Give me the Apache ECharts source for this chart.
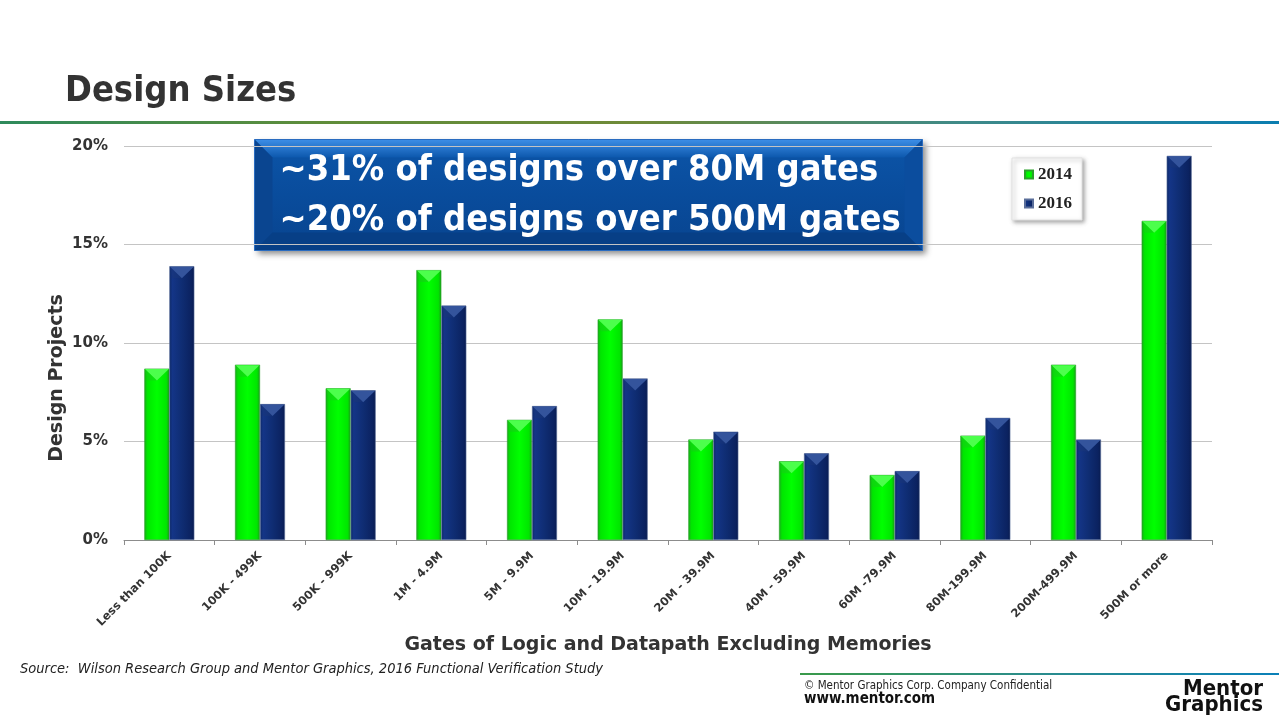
<!DOCTYPE html>
<html><head><meta charset="utf-8">
<script src="https://cdn.jsdelivr.net/npm/echarts@6/dist/echarts.min.js"></script>
<style>html,body{margin:0;padding:0;background:#fff}#c{width:1279px;height:720px}</style>
</head><body><div id="c"></div>
<script>
const categories = ['Less than 100K','100K - 499K','500K - 999K','1M - 4.9M','5M - 9.9M','10M - 19.9M','20M - 39.9M','40M - 59.9M','60M -79.9M','80M-199.9M','200M-499.9M','500M or more'];
const series2014 = [8.7, 8.9, 7.7, 13.7, 6.1, 11.2, 5.1, 4.0, 3.3, 5.3, 8.9, 16.2];
const series2016 = [13.9, 6.9, 7.6, 11.9, 6.8, 8.2, 5.5, 4.4, 3.5, 6.2, 5.1, 19.5];
const yTicks = [0, 5, 10, 15, 20];
const seriesNames = ['2014', '2016'];

const COND = '"DejaVu Sans Condensed","DejaVu Sans",sans-serif';
const SANS = '"DejaVu Sans",sans-serif';
const chart = echarts.init(document.getElementById('c'), null, {renderer: 'canvas'});

const greenFill = new echarts.graphic.LinearGradient(0,0,1,0,[
  {offset:0,color:'#1ea41e'},{offset:0.12,color:'#00e600'},{offset:0.5,color:'#00ff00'},{offset:0.88,color:'#00e600'},{offset:1,color:'#1a9a1a'}]);
const blueFill = new echarts.graphic.LinearGradient(0,0,1,0,[
  {offset:0,color:'#0d2866'},{offset:0.12,color:'#143587'},{offset:0.5,color:'#0f2d73'},{offset:0.88,color:'#0b2260'},{offset:1,color:'#091c50'}]);
const calloutFill = new echarts.graphic.LinearGradient(0,0,0,1,[
  {offset:0,color:'#0c55a8'},{offset:0.5,color:'#094c9c'},{offset:1,color:'#08448f'}]);

const BAR_W = 25;
const bevelData = [];
series2014.forEach((v, i) => bevelData.push([i, v, 0]));
series2016.forEach((v, i) => bevelData.push([i, v, 1]));

function renderBevel(params, api) {
  const idx = api.value(0), val = api.value(1), s = api.value(2);
  const p = api.coord([idx, val]);
  const x0 = s === 0 ? p[0] - BAR_W : p[0];
  const x1 = x0 + BAR_W;
  const h = 12;
  const top = s === 0 ? '#4cff4c' : '#34549c';
  const side = s === 0 ? '#19c719' : '#1a3578';
  return {type: 'group', children: [
    {type: 'polygon', shape: {points: [[x0 + 0.5, p[1] + 0.5], [x1 - 0.5, p[1] + 0.5], [(x0 + x1) / 2, p[1] + h]]}, style: {fill: top}},
    {type: 'polygon', shape: {points: [[x0 + 0.5, p[1] + 0.5], [(x0 + x1) / 2, p[1] + h], [x0 + 3, p[1] + h]]}, style: {fill: side, opacity: 0.5}}
  ]};
}

chart.setOption({
  animation: false,
  backgroundColor: '#ffffff',
  grid: {left: 124, right: 67, top: 146, bottom: 180, containLabel: false},
  legend: {
    data: seriesNames,
    orient: 'vertical',
    left: 1012, top: 158,
    icon: 'rect', itemWidth: 8, itemHeight: 8, itemGap: 12,
    padding: [8, 10, 8, 12],
    backgroundColor: '#ffffff',
    borderColor: '#e2e2e2', borderWidth: 1,
    shadowBlur: 4, shadowColor: 'rgba(0,0,0,0.35)', shadowOffsetX: 2, shadowOffsetY: 2,
    textStyle: {fontFamily: '"Liberation Serif","Times New Roman",serif', fontWeight: 'bold', fontSize: 17, color: '#222'}
  },
  xAxis: {
    type: 'category',
    data: categories,
    name: 'Gates of Logic and Datapath Excluding Memories',
    nameLocation: 'middle', nameGap: 91,
    nameTextStyle: {fontFamily: SANS, fontWeight: 'bold', fontSize: 19, color: '#333'},
    axisLine: {lineStyle: {color: '#8c8c8c', width: 1}},
    axisTick: {show: true, length: 5, lineStyle: {color: '#8c8c8c'}},
    axisLabel: {rotate: 45, interval: 0, margin: 14, fontFamily: SANS, fontWeight: 'bold', fontSize: 11.5, color: '#333'}
  },
  yAxis: {
    type: 'value', min: 0, max: 20, interval: 5,
    axisLine: {show: false}, axisTick: {show: false},
    axisLabel: {margin: 16, fontFamily: SANS, fontWeight: 'bold', fontSize: 15, color: '#333',
      formatter: v => yTicks.includes(v) ? v + '%' : ''},
    splitLine: {lineStyle: {color: '#c4c4c4', width: 1}}
  },
  series: [
    {name: seriesNames[0], type: 'bar', data: series2014, barWidth: BAR_W, barGap: '0%',
     itemStyle: {color: greenFill, borderColor: '#2aa02a', borderWidth: 0.6}},
    {name: seriesNames[1], type: 'bar', data: series2016, barWidth: BAR_W, barGap: '0%',
     itemStyle: {color: blueFill, borderColor: '#5a6e9a', borderWidth: 0.6}},
    {name: 'bevel', type: 'custom', data: bevelData, renderItem: renderBevel, silent: true, z: 3,
     encode: {x: 0, y: 1}}
  ],
  graphic: [
    {type: 'text', left: 65, top: 74, style: {text: 'Design Sizes', font: 'bold 36px ' + COND, fill: '#333333'}},
    {type: 'rect', left: 0, top: 121, shape: {width: 1279, height: 3},
     style: {fill: new echarts.graphic.LinearGradient(0,0,1,0,[
       {offset:0,color:'#2e8a5c'},{offset:0.25,color:'#5f8d3a'},{offset:0.5,color:'#6f8a38'},{offset:0.75,color:'#3f8a88'},{offset:1,color:'#0a7db0'}])}},
    {type: 'text', x: 57, y: 378, rotation: Math.PI / 2,
     style: {text: 'Design Projects', font: 'bold 19px ' + SANS, fill: '#333', align: 'center', verticalAlign: 'middle'}},
    // callout box
    {type: 'group', left: 252, top: 137, children: [
      {type: 'rect', shape: {x: 0, y: 0, width: 668, height: 111},
       style: {fill: calloutFill, shadowBlur: 6, shadowColor: 'rgba(0,0,0,0.45)', shadowOffsetX: 3, shadowOffsetY: 3}},
      {type: 'polygon', shape: {points: [[0,0],[668,0],[650,18],[18,18]]},
       style: {fill: new echarts.graphic.LinearGradient(0,0,0,1,[{offset:0,color:'#3d8ee6'},{offset:1,color:'#0d58ad'}])}},
      {type: 'polygon', shape: {points: [[0,0],[18,18],[18,93],[0,111]]}, style: {fill: '#0a4590'}},
      {type: 'polygon', shape: {points: [[668,0],[650,18],[650,93],[668,111]]}, style: {fill: '#0b4d9e'}},
      {type: 'polygon', shape: {points: [[0,111],[18,93],[650,93],[668,111]]}, style: {fill: '#073f86'}},
      {type: 'rect', shape: {x: 0, y: 0, width: 668, height: 111}, style: {fill: 'none', stroke: '#2a6cc0', lineWidth: 1}},
      {type: 'text', x: 25, y: 13, style: {text: '~31% of designs over 80M gates', font: 'bold 36px ' + COND, fill: '#ffffff'}},
      {type: 'text', x: 25, y: 63, style: {text: '~20% of designs over 500M gates', font: 'bold 36px ' + COND, fill: '#ffffff'}}
    ]},
    // footer
    {type: 'text', left: 20, top: 662, style: {text: 'Source:  Wilson Research Group and Mentor Graphics, 2016 Functional Verification Study', font: 'italic 14.5px ' + COND, fill: '#222'}},
    {type: 'rect', left: 800, top: 673, shape: {width: 479, height: 2},
     style: {fill: new echarts.graphic.LinearGradient(0,0,1,0,[{offset:0,color:'#3a9a4a'},{offset:0.5,color:'#2a8c8c'},{offset:1,color:'#0a80b8'}])}},
    {type: 'text', left: 804, top: 680, style: {text: '\u00a9 Mentor Graphics Corp. Company Confidential', font: '11.5px ' + COND, fill: '#222'}},
    {type: 'text', left: 804, top: 692, style: {text: 'www.mentor.com', font: 'bold 15px ' + COND, fill: '#111'}},
    {type: 'text', x: 1263, y: 678, style: {text: 'Mentor', font: 'bold 22px ' + COND, fill: '#111', align: 'right'}},
    {type: 'text', x: 1263, y: 694, style: {text: 'Graphics', font: 'bold 22px ' + COND, fill: '#111', align: 'right'}}
  ]
});
</script>
</body></html>
